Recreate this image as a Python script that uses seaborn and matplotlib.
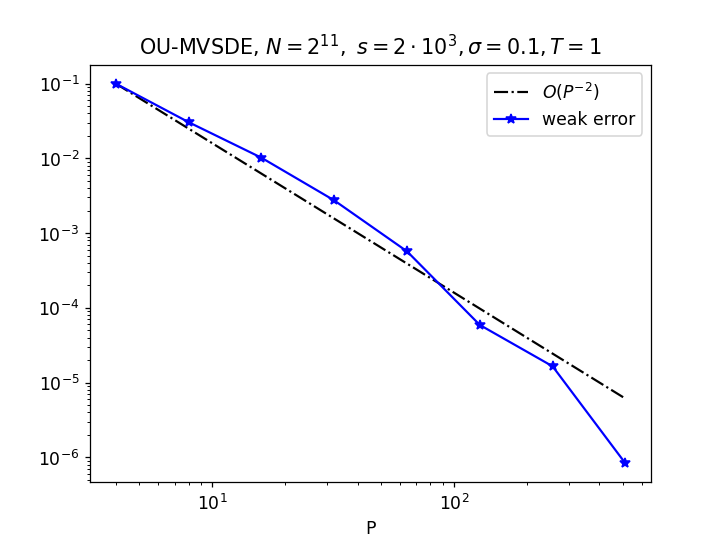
import matplotlib
matplotlib.use("Agg")
import matplotlib.pyplot as plt
import seaborn as sns

# number of particles P and the measured weak error
P = [4, 8, 16, 32, 64, 128, 256, 512]
weak_error = [1.0e-1, 3.05e-2, 1.02e-2, 2.74e-3, 5.7e-4, 5.9e-5, 1.65e-5, 8.3e-7]
# reference slope O(P^-2), anchored at the first point
ref_line = [1.0e-1, 2.5e-2, 6.25e-3, 1.5625e-3, 3.906e-4, 9.766e-5, 2.441e-5, 6.104e-6]

plt.rcParams["font.size"] = 11

fig, ax = plt.subplots(figsize=(6.4, 4.8), dpi=113)

sns.lineplot(x=P, y=ref_line, ax=ax, color="black", linestyle="-.",
             linewidth=1.4, label=r"$O(P^{-2})$")
sns.lineplot(x=P, y=weak_error, ax=ax, color="blue", marker="*",
             markersize=7, markeredgecolor="blue", markeredgewidth=1,
             linewidth=1.4, label="weak error")

ax.set_xscale("log")
ax.set_yscale("log")
ax.set_xlabel("P")
ax.set_title(r"OU-MVSDE, $N=2^{11},\ s=2\cdot 10^3,\sigma=0.1,T=1$")
ax.legend(loc="upper right")

fig.savefig("out.png")
